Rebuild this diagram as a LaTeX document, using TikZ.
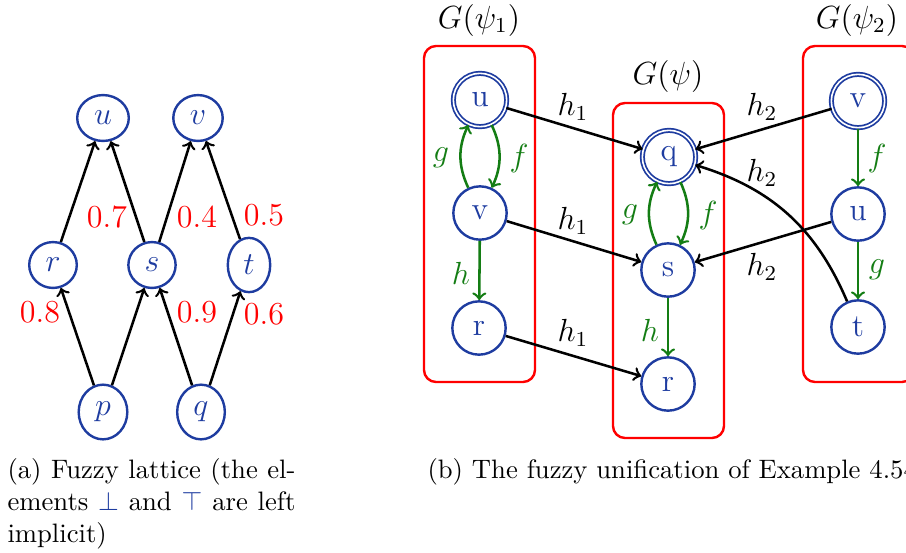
\documentclass[tikz,border=0pt]{standalone}
\usetikzlibrary{shapes.geometric}
\definecolor{nblue}{RGB}{30,60,160}
\definecolor{egreen}{RGB}{20,125,20}
\begin{document}
\begin{tikzpicture}[x=0.375pt,y=-0.375pt,
  lat/.style={ellipse,draw=nblue,line width=0.9pt,inner sep=3.5pt,font=\large,text=nblue},
  st/.style={circle,draw=nblue,line width=0.9pt,minimum size=20pt,inner sep=0pt,font=\large,text=nblue},
  acc/.style={st,double,double distance=0.6pt,line width=0.65pt},
  num/.style={text=red,font=\large,inner sep=0pt},
  lbl/.style={font=\large,inner sep=0pt},
  glbl/.style={font=\large,inner sep=0pt,text=egreen},
  ar/.style={->,line width=0.95pt,black},
  gar/.style={->,line width=0.95pt,egreen},
  redbox/.style={draw=red,line width=0.9pt,rounded corners=4.5pt},
  captxt/.style={anchor=base west,inner sep=0pt}
]
\useasboundingbox (0,0) rectangle (906,552);
\clip (0,0) rectangle (906,552);

% ---------- (a) fuzzy lattice ----------
\node[lat] (u) at (103,118) {$u$};
\node[lat] (v) at (198,118) {$v$};
\node[lat] (r) at (53,265) {$r$};
\node[lat] (s) at (152,265) {$s$};
\node[lat] (t) at (249,265) {$t$};
\node[lat] (p) at (103,412) {$p$};
\node[lat] (q) at (201,412) {$q$};

\draw[ar] (r) -- (u);
\draw[ar] (s) -- (u);
\draw[ar] (s) -- (v);
\draw[ar] (t) -- (v);
\draw[ar] (p) -- (r);
\draw[ar] (p) -- (s);
\draw[ar] (q) -- (s);
\draw[ar] (q) -- (t);

\node[num] (n07) at (107,217) {0.7};
\node[num] (n04) at (197,217) {0.4};
\node[num] (n05) at (264,215) {0.5};
\node[num] (n08) at (40,312) {0.8};
\node[num] (n09) at (197,312) {0.9};
\node[num] (n06) at (264,314) {0.6};

% ---------- (b) fuzzy unification ----------
\draw[redbox] (424,46) rectangle (535,382);
\draw[redbox] (613,103) rectangle (724,438);
\draw[redbox] (803,46) rectangle (914,382);

\node[lbl] (G1) at (479,20) {$G(\psi_1)$};
\node[lbl] (G0) at (668,76) {$G(\psi)$};
\node[lbl] (G2) at (857,20) {$G(\psi_2)$};

\node[acc] (u1) at (480,100) {u};
\node[st]  (v1) at (480,213) {v};
\node[st]  (r1) at (479,328) {r};

\node[acc] (qq) at (669,157) {q};
\node[st]  (ss) at (668,270) {s};
\node[st]  (r2) at (668,384) {r};

\node[acc] (v2) at (858,101) {v};
\node[st]  (u2) at (858,214) {u};
\node[st]  (t2) at (858,327) {t};

\draw[gar] (u1) to[bend left=25] (v1);
\draw[gar] (v1) to[bend left=25] (u1);
\draw[gar] (v1) -- (r1);
\draw[gar] (qq) to[bend left=25] (ss);
\draw[gar] (ss) to[bend left=25] (qq);
\draw[gar] (ss) -- (r2);
\draw[gar] (v2) -- (u2);
\draw[gar] (u2) -- (t2);

\draw[ar] (u1) -- (qq);
\draw[ar] (v1) -- (ss);
\draw[ar] (r1) -- (r2);
\draw[ar] (v2) -- (qq);
\draw[ar] (u2) -- (ss);
\draw[ar] (t2) to[bend right=25] (qq);

\node[glbl] (lg1) at (441,158) {$g$};
\node[glbl] (lf1) at (519,158) {$f$};
\node[glbl] (lh1) at (461,273) {$h$};
\node[glbl] (lg0) at (630,215) {$g$};
\node[glbl] (lf0) at (708,215) {$f$};
\node[glbl] (lh0) at (650,330) {$h$};
\node[glbl] (lf2) at (877,158) {$f$};
\node[glbl] (lg2) at (877,270) {$g$};

\node[lbl] (h1a) at (573,107) {$h_1$};
\node[lbl] (h1b) at (573,221) {$h_1$};
\node[lbl] (h1c) at (573,333) {$h_1$};
\node[lbl] (h2a) at (762,107) {$h_2$};
\node[lbl] (h2b) at (762,173) {$h_2$};
\node[lbl] (h2c) at (762,267) {$h_2$};

% ---------- captions ----------
\node[captxt] (capa1) at (7,478) {\makebox[108pt][s]{(a) Fuzzy lattice (the el-}};
\node[captxt] (capa2) at (7,510) {\makebox[108pt][s]{ements \textcolor{nblue}{$\bot$} and \textcolor{nblue}{$\top$} are left}};
\node[captxt] (capa3) at (7,542) {implicit)};
\node[captxt] (capb) at (427,478) {(b) The fuzzy unification of Example 4.54};
\end{tikzpicture}
\end{document}
